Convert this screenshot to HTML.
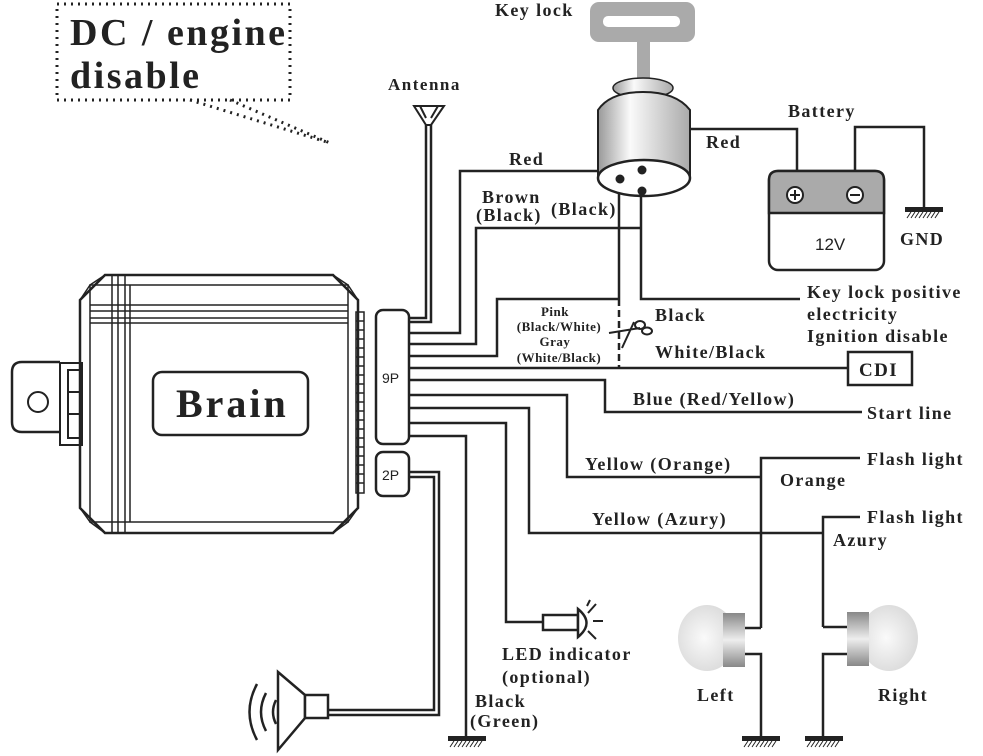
<!DOCTYPE html>
<html><head><meta charset="utf-8"><style>
html,body{margin:0;padding:0;background:#fff;}
svg{display:block;}
text{font-family:"Liberation Serif",serif;font-weight:bold;fill:#222;letter-spacing:1.4px;}
.s{font-family:"Liberation Sans",sans-serif;font-weight:normal;letter-spacing:0;}
.sm{letter-spacing:0.5px;}
</style></head><body>
<svg width="983" height="756" viewBox="0 0 983 756" xmlns="http://www.w3.org/2000/svg">
<defs>
<radialGradient id="glb" cx="0.45" cy="0.5" r="0.6"><stop offset="0" stop-color="#fafafa"/><stop offset="1" stop-color="#d8d8d8"/></radialGradient>
<linearGradient id="cyl" x1="0" x2="1"><stop offset="0" stop-color="#999"/><stop offset="0.35" stop-color="#fafafa"/><stop offset="1" stop-color="#aaa"/></linearGradient>
<linearGradient id="sock" x1="0" x2="0" y1="0" y2="1"><stop offset="0" stop-color="#888"/><stop offset="0.5" stop-color="#eee"/><stop offset="1" stop-color="#888"/></linearGradient>
</defs>
<g fill="none" stroke="#222" stroke-width="2.5">
<rect x="57" y="4" width="233" height="96" stroke-dasharray="2 5" stroke-width="3"/>
<path d="M190 100 L330 143 M230 100 L330 143" stroke-dasharray="2 5" stroke-width="3"/>
<path d="M105 275 L333 275 L358 300 L358 508 L333 533 L105 533 L80 508 L80 300 Z"/>
<path d="M90 285 L348 285 L348 522 L90 522 Z" stroke-width="1.5"/>
<path d="M80 300 L90 285 M358 300 L348 285 M80 508 L90 522 M358 508 L348 522 M105 275 L90 285 M333 275 L348 285 M105 533 L90 522 M333 533 L348 522" stroke-width="1.5"/>
<path d="M112 275 V533 M118 275 V533 M125 275 V533 M130 285 V522 M90 305 H348 M90 311 H348 M90 318 H348 M90 323 H348" stroke-width="1.5"/>
<rect x="153" y="372" width="155" height="63" rx="9"/>
<path d="M60 362 H22 Q12 362 12 372 V422 Q12 432 22 432 H60"/>
<circle cx="38" cy="402" r="10" stroke-width="2"/>
<rect x="60" y="363" width="22" height="82" stroke-width="2"/>
<rect x="68" y="370" width="12" height="68" stroke-width="2"/>
<path d="M68 392 H80 M68 414 H80" stroke-width="2"/>
<rect x="356" y="312" width="8" height="181" stroke-width="1.5"/>
<path d="M356 321H364M356 330H364M356 339H364M356 348H364M356 357H364M356 366H364M356 375H364M356 384H364M356 393H364M356 402H364M356 411H364M356 420H364M356 429H364M356 438H364M356 447H364M356 456H364M356 465H364M356 474H364M356 483H364" stroke-width="1.5"/>
<rect x="376" y="310" width="33" height="134" rx="7"/>
<rect x="376" y="452" width="33" height="44" rx="7"/>
<path d="M409 318 H426 V125 M409 322 H431 V125"/>
<path d="M414 106 H444 L431 125 H426 Z M420 106 L426 118 M438 106 L431 118" stroke-width="2"/>
<path d="M409 333 H460 V171 H598"/>
<path d="M409 344 H476 V228 H641"/>
<path d="M409 356 H497 V299 H619"/>
<path d="M409 368 H848"/>
<path d="M409 380 H605 V412 H862"/>
<path d="M409 395 H567 V477 H761"/>
<path d="M409 408 H529 V533 H823"/>
<path d="M409 423 H506 V622 H543"/>
<path d="M409 436 H466 V740"/>
<path d="M409 472 H439 V715 H328 M409 477 H434 V710 H328"/>
<path d="M619 179 V299"/>
<path d="M619 299 V368" stroke-dasharray="7 4"/>
<path d="M641 191 V299 H800"/>
<path d="M690 129 H797 V171"/>
<path d="M855 187 V127 H924 V208"/>
<path d="M761 628 V458 H860 M745 628 H761"/>
<path d="M823 627 V517 H860 M847 627 H823"/>
<path d="M745 654 H761 V740 M847 654 H823 V740"/>
<rect x="848" y="352" width="64" height="33"/>
</g>
<g fill="#222">
<rect x="905" y="207" width="38" height="5"/>
<rect x="448" y="736" width="38" height="5"/>
<rect x="742" y="736" width="38" height="5"/>
<rect x="805" y="736" width="38" height="5"/>
</g>
<g stroke="#222" stroke-width="1">
<path d="M907 218l4-6M911 218l4-6M915 218l4-6M919 218l4-6M923 218l4-6M927 218l4-6M931 218l4-6M935 218l4-6"/>
<path d="M450 747l4-6M454 747l4-6M458 747l4-6M462 747l4-6M466 747l4-6M470 747l4-6M474 747l4-6M478 747l4-6"/>
<path d="M744 747l4-6M748 747l4-6M752 747l4-6M756 747l4-6M760 747l4-6M764 747l4-6M768 747l4-6M772 747l4-6"/>
<path d="M807 747l4-6M811 747l4-6M815 747l4-6M819 747l4-6M823 747l4-6M827 747l4-6M831 747l4-6M835 747l4-6"/>
</g>
<rect x="590" y="2" width="105" height="40" rx="9" fill="#aaa"/>
<rect x="603" y="16" width="77" height="11" rx="5" fill="#fff"/>
<rect x="637" y="41" width="13" height="44" fill="#aaa"/>
<ellipse cx="643" cy="88" rx="30" ry="10" fill="url(#cyl)" stroke="#222" stroke-width="1.5"/>
<path d="M598 110 Q610 92 643 92 Q676 92 690 110 V178 H598 Z" fill="url(#cyl)" stroke="#222" stroke-width="2"/>
<ellipse cx="644" cy="178" rx="46" ry="18" fill="#fff" stroke="#222" stroke-width="2.5"/>
<circle cx="620" cy="179" r="4.5" fill="#222"/>
<circle cx="642" cy="170" r="4.5" fill="#222"/>
<circle cx="642" cy="191" r="4.5" fill="#222"/>
<rect x="769" y="171" width="115" height="99" rx="9" fill="#fff" stroke="#222" stroke-width="2.5"/>
<path d="M769 213 V180 Q769 171 778 171 H875 Q884 171 884 180 V213 Z" fill="#aaa" stroke="#222" stroke-width="2.5"/>
<circle cx="795" cy="195" r="8" fill="#fff" stroke="#222" stroke-width="2"/>
<path d="M790 195H800M795 190V200" stroke="#222" stroke-width="2"/>
<circle cx="855" cy="195" r="8" fill="#fff" stroke="#222" stroke-width="2"/>
<path d="M850 195H860" stroke="#222" stroke-width="2"/>
<g stroke="#222" stroke-width="2" fill="none">
<path d="M609 333 L640 328 M622 348 L634 322"/>
<ellipse cx="640" cy="325" rx="5" ry="4"/><ellipse cx="647" cy="331" rx="5" ry="3.5"/>
</g>
<g stroke="#222" stroke-width="2.5" fill="#fff">
<rect x="543" y="615" width="35" height="15"/>
<path d="M578 609 L578 637 Q595 623 578 609 Z"/>
</g>
<path d="M588 613l8-9M593 621h10M588 631l8 8M587 606l3-6" stroke="#222" stroke-width="2"/>
<ellipse cx="707" cy="638" rx="29" ry="33" fill="url(#glb)"/>
<rect x="723" y="613" width="22" height="54" fill="url(#sock)"/>
<ellipse cx="889" cy="638" rx="29" ry="33" fill="url(#glb)"/>
<rect x="847" y="612" width="22" height="54" fill="url(#sock)"/>
<g stroke="#222" stroke-width="2.5" fill="#fff">
<path d="M305 695 L278 672 L278 750 L305 718 Z"/>
<rect x="305" y="695" width="23" height="23"/>
</g>
<g stroke="#222" stroke-width="2.5" fill="none">
<path d="M276 700 Q270 712 276 724"/>
<path d="M266 693 Q256 712 266 731"/>
<path d="M257 684 Q242 712 257 740"/>
</g>
<text x="70" y="45" font-size="38" style="letter-spacing:2.5px">DC / engine</text>
<text x="70" y="88" font-size="38" style="letter-spacing:2.5px">disable</text>
<text x="176" y="417" font-size="40" style="letter-spacing:3px">Brain</text>
<text x="388" y="90" font-size="17" style="letter-spacing:1.5px">Antenna</text>
<text x="495" y="16" font-size="18">Key lock</text>
<text x="509" y="165" font-size="18">Red</text>
<text x="482" y="203" font-size="18">Brown</text>
<text x="476" y="221" font-size="18">(Black)</text>
<text x="551" y="215" font-size="18">(Black)</text>
<text x="706" y="148" font-size="18">Red</text>
<text x="788" y="117" font-size="18">Battery</text>
<text x="815" y="250" font-size="17" class="s" fill="#222">12V</text>
<text x="900" y="245" font-size="18">GND</text>
<text x="555" y="316" font-size="13" text-anchor="middle" class="sm">Pink</text>
<text x="559" y="331" font-size="13" text-anchor="middle" class="sm">(Black/White)</text>
<text x="555" y="346" font-size="13" text-anchor="middle" class="sm">Gray</text>
<text x="559" y="362" font-size="13" text-anchor="middle" class="sm">(White/Black)</text>
<text x="655" y="321" font-size="18">Black</text>
<text x="655" y="358" font-size="18">White/Black</text>
<text x="807" y="298" font-size="18">Key lock positive</text>
<text x="807" y="320" font-size="18">electricity</text>
<text x="807" y="342" font-size="18">Ignition disable</text>
<text x="859" y="376" font-size="19">CDI</text>
<text x="633" y="405" font-size="18">Blue (Red/Yellow)</text>
<text x="867" y="419" font-size="18">Start line</text>
<text x="585" y="470" font-size="18">Yellow (Orange)</text>
<text x="780" y="486" font-size="18">Orange</text>
<text x="867" y="465" font-size="18">Flash light</text>
<text x="592" y="525" font-size="18">Yellow (Azury)</text>
<text x="833" y="546" font-size="18">Azury</text>
<text x="867" y="523" font-size="18">Flash light</text>
<text x="502" y="660" font-size="18">LED indicator</text>
<text x="502" y="683" font-size="18">(optional)</text>
<text x="475" y="707" font-size="18">Black</text>
<text x="470" y="727" font-size="18">(Green)</text>
<text x="697" y="701" font-size="18">Left</text>
<text x="878" y="701" font-size="18">Right</text>
<text x="382" y="383" font-size="14" class="s" fill="#222">9P</text>
<text x="382" y="480" font-size="14" class="s" fill="#222">2P</text>
</svg>
</body></html>
